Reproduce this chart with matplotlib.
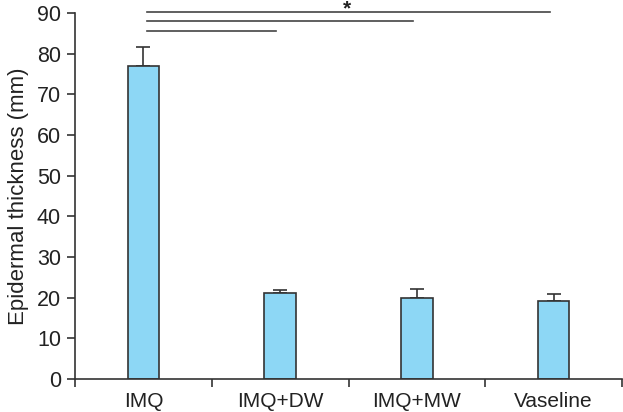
import matplotlib
matplotlib.use("Agg")
import matplotlib.pyplot as plt
import numpy as np

categories = ["IMQ", "IMQ+DW", "IMQ+MW", "Vaseline"]
means = [77.0, 21.1, 19.9, 19.2]
errors = [4.7, 0.9, 2.3, 1.8]
yticks = [0, 10, 20, 30, 40, 50, 60, 70, 80, 90]
# significance comparisons: (from index, to index, y level)
sig_pairs = [(0, 1, 85.6), (0, 2, 88.0), (0, 3, 90.3)]
sig_label = "*"

plt.rcParams['font.family'] = ['Liberation Sans', 'DejaVu Sans']

fig = plt.figure(figsize=(6.23, 4.12), dpi=100)
ax = fig.add_axes([0.1204, 0.080, 0.878, 0.888])

x = np.arange(len(categories))
ax.bar(x, means, width=0.23, color="#8dd7f5", edgecolor="#333333", linewidth=1.2, zorder=2)
ax.errorbar(x, means, yerr=[np.zeros(len(errors)), errors], fmt="none",
            ecolor="#333333", elinewidth=1.2, capsize=5, capthick=1.2, zorder=1)

ax.set_xlim(-0.5, len(categories) - 0.5)
ax.set_ylim(0, 90)
ax.set_yticks(yticks)
ax.tick_params(axis='y', labelsize=15.5, length=6, width=1.2, color="#333333",
               labelcolor="#222222", direction='out', pad=4)
ax.set_xticks(np.arange(len(categories) + 1) - 0.5)
ax.set_xticklabels([])
ax.set_xticks(x, minor=True)
ax.set_xticklabels(categories, minor=True)
ax.tick_params(axis='x', which='major', length=6, width=1.2, color="#333333", direction='out')
ax.tick_params(axis='x', which='minor', length=0, labelsize=15, labelcolor="#222222", pad=9)

for s in ["top", "right"]:
    ax.spines[s].set_visible(False)
for s in ["left", "bottom"]:
    ax.spines[s].set_linewidth(1.2)
    ax.spines[s].set_color("#333333")

ax.set_ylabel("Epidermal thickness (mm)", fontsize=16, color="#222222", labelpad=6)

for i, j, yv in sig_pairs:
    ax.plot([i + 0.03, j - 0.03], [yv, yv], color="#444444", linewidth=1.2, clip_on=False)
ax.text(1.49, 89.6, sig_label, ha="center", va="baseline", fontsize=15,
        fontweight="bold", color="#222222")

fig.savefig("out.png", dpi=100)
